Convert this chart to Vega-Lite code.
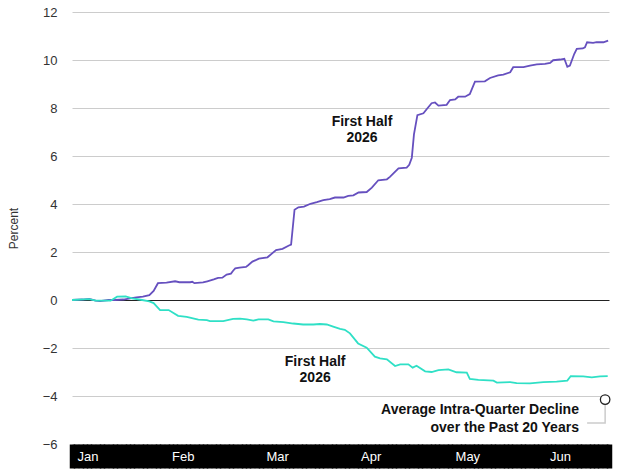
{
  "$schema": "https://vega.github.io/schema/vega-lite/v6.json",
  "width": 537,
  "height": 432,
  "autosize": {"type": "none"},
  "padding": {"left": 72, "top": 12, "right": 11, "bottom": 30},
  "background": "white",
  "config": {"view": {"stroke": null}, "font": "Liberation Sans"},
  "encoding": {
    "x": {
      "field": "day", "type": "quantitative",
      "scale": {"domain": [0, 125], "nice": false, "zero": false},
      "axis": {
        "values": [0,1,2,3,4,5,6,7,8,9,10,11,12,13,14,15,16,17,18,19,20,21,22,23,24,25,26,27,28,29,30,31,32,33,34,35,36,37,38,39,40,41,42,43,44,45,46,47,48,49,50,51,52,53,54,55,56,57,58,59,60,61,62,63,64,65,66,67,68,69,70,71,72,73,74,75,76,77,78,79,80,81,82,83,84,85,86,87,88,89,90,91,92,93,94,95,96,97,98,99,100,101,102,103,104,105,106,107,108,109,110,111,112,113,114,115,116,117,118,119,120,121,122,123,124,125],
        "labelExpr": "datum.value % 22 === 0 ? ['Jan','Feb','Mar','Apr','May','Jun'][round(datum.value/22)] : ''",
        "title": null, "grid": false, "domain": false,
        "ticks": true, "tickSize": 24, "tickWidth": 5.5, "tickColor": "#000000", "tickCap": "butt",
        "labelColor": "#ffffff", "labelFontSize": 13,
        "labelAlign": "left", "labelBaseline": "middle", "labelPadding": -12,
        "labelOffset": 5, "labelFlush": false, "labelOverlap": false, "labelBound": false
      }
    },
    "y": {
      "field": "pct", "type": "quantitative",
      "scale": {"domain": [-6, 12], "nice": false, "zero": false},
      "axis": {
        "values": [-6, -4, -2, 0, 2, 4, 6, 8, 10, 12],
        "title": "Percent", "titleFontWeight": "normal", "titleFontSize": 12,
        "titleColor": "#333333", "titlePadding": 22,
        "labelFontSize": 13, "labelColor": "#333333", "labelPadding": 15,
        "ticks": false, "tickSize": 0, "domain": false, "grid": true,
        "gridColor": {"condition": {"test": "datum.value === 0", "value": "#222222"}, "value": "#cccccc"},
        "gridWidth": 1
      }
    }
  },
  "layer": [
    {
      "data": {"values": [
        {"series": "upper", "day": 0, "pct": 0},
        {"series": "upper", "day": 2.5, "pct": 0.02},
        {"series": "upper", "day": 4, "pct": 0.05},
        {"series": "upper", "day": 5.5, "pct": -0.03},
        {"series": "upper", "day": 6.5, "pct": -0.05},
        {"series": "upper", "day": 8.5, "pct": 0.0},
        {"series": "upper", "day": 10, "pct": 0.0},
        {"series": "upper", "day": 12, "pct": 0.02},
        {"series": "upper", "day": 13.5, "pct": 0.07},
        {"series": "upper", "day": 15, "pct": 0.11},
        {"series": "upper", "day": 16.5, "pct": 0.14},
        {"series": "upper", "day": 18, "pct": 0.2},
        {"series": "upper", "day": 19, "pct": 0.38},
        {"series": "upper", "day": 20, "pct": 0.7},
        {"series": "upper", "day": 22, "pct": 0.72},
        {"series": "upper", "day": 24, "pct": 0.78},
        {"series": "upper", "day": 25, "pct": 0.74},
        {"series": "upper", "day": 27.5, "pct": 0.74},
        {"series": "upper", "day": 28, "pct": 0.76},
        {"series": "upper", "day": 28.5, "pct": 0.7},
        {"series": "upper", "day": 30.5, "pct": 0.73},
        {"series": "upper", "day": 31.5, "pct": 0.78},
        {"series": "upper", "day": 33, "pct": 0.86},
        {"series": "upper", "day": 34, "pct": 0.92},
        {"series": "upper", "day": 35, "pct": 0.93},
        {"series": "upper", "day": 36, "pct": 1.06},
        {"series": "upper", "day": 37, "pct": 1.1},
        {"series": "upper", "day": 37.5, "pct": 1.22},
        {"series": "upper", "day": 38, "pct": 1.32},
        {"series": "upper", "day": 39, "pct": 1.35},
        {"series": "upper", "day": 40.5, "pct": 1.38},
        {"series": "upper", "day": 41, "pct": 1.45},
        {"series": "upper", "day": 42, "pct": 1.6},
        {"series": "upper", "day": 43.5, "pct": 1.72},
        {"series": "upper", "day": 45.5, "pct": 1.78},
        {"series": "upper", "day": 47.5, "pct": 2.08},
        {"series": "upper", "day": 49, "pct": 2.13},
        {"series": "upper", "day": 50.5, "pct": 2.27},
        {"series": "upper", "day": 51, "pct": 2.31},
        {"series": "upper", "day": 51.8, "pct": 3.76},
        {"series": "upper", "day": 52.7, "pct": 3.86},
        {"series": "upper", "day": 54, "pct": 3.89},
        {"series": "upper", "day": 55.5, "pct": 4.01},
        {"series": "upper", "day": 57, "pct": 4.08},
        {"series": "upper", "day": 58.5, "pct": 4.16},
        {"series": "upper", "day": 60, "pct": 4.2},
        {"series": "upper", "day": 61.2, "pct": 4.27},
        {"series": "upper", "day": 63.2, "pct": 4.27},
        {"series": "upper", "day": 64.3, "pct": 4.34},
        {"series": "upper", "day": 65.5, "pct": 4.36},
        {"series": "upper", "day": 66.7, "pct": 4.48},
        {"series": "upper", "day": 68.6, "pct": 4.5},
        {"series": "upper", "day": 69.8, "pct": 4.68},
        {"series": "upper", "day": 71.3, "pct": 4.99},
        {"series": "upper", "day": 73.3, "pct": 5.03},
        {"series": "upper", "day": 74, "pct": 5.13},
        {"series": "upper", "day": 76, "pct": 5.48},
        {"series": "upper", "day": 77.9, "pct": 5.52},
        {"series": "upper", "day": 78.5, "pct": 5.63},
        {"series": "upper", "day": 79.1, "pct": 5.93},
        {"series": "upper", "day": 79.6, "pct": 6.9},
        {"series": "upper", "day": 80.4, "pct": 7.7},
        {"series": "upper", "day": 81.8, "pct": 7.78},
        {"series": "upper", "day": 82.6, "pct": 7.96},
        {"series": "upper", "day": 83.7, "pct": 8.2},
        {"series": "upper", "day": 84.5, "pct": 8.23},
        {"series": "upper", "day": 85.3, "pct": 8.1},
        {"series": "upper", "day": 87.2, "pct": 8.13},
        {"series": "upper", "day": 88, "pct": 8.33},
        {"series": "upper", "day": 89.2, "pct": 8.36},
        {"series": "upper", "day": 89.9, "pct": 8.47},
        {"series": "upper", "day": 91.5, "pct": 8.47},
        {"series": "upper", "day": 92.6, "pct": 8.58},
        {"series": "upper", "day": 93.8, "pct": 9.1},
        {"series": "upper", "day": 96.1, "pct": 9.11},
        {"series": "upper", "day": 97.3, "pct": 9.25},
        {"series": "upper", "day": 99.2, "pct": 9.36},
        {"series": "upper", "day": 100.4, "pct": 9.39},
        {"series": "upper", "day": 102, "pct": 9.49},
        {"series": "upper", "day": 102.7, "pct": 9.7},
        {"series": "upper", "day": 105.1, "pct": 9.7},
        {"series": "upper", "day": 106.6, "pct": 9.77},
        {"series": "upper", "day": 108.2, "pct": 9.82},
        {"series": "upper", "day": 110.1, "pct": 9.84},
        {"series": "upper", "day": 111.3, "pct": 9.88},
        {"series": "upper", "day": 112, "pct": 9.99},
        {"series": "upper", "day": 113.6, "pct": 10.02},
        {"series": "upper", "day": 114.6, "pct": 10.05},
        {"series": "upper", "day": 115.3, "pct": 9.72},
        {"series": "upper", "day": 115.9, "pct": 9.77},
        {"series": "upper", "day": 116.9, "pct": 10.25},
        {"series": "upper", "day": 117.5, "pct": 10.46},
        {"series": "upper", "day": 118.9, "pct": 10.48},
        {"series": "upper", "day": 119.4, "pct": 10.53},
        {"series": "upper", "day": 119.9, "pct": 10.74},
        {"series": "upper", "day": 121.3, "pct": 10.71},
        {"series": "upper", "day": 122.1, "pct": 10.74},
        {"series": "upper", "day": 123.7, "pct": 10.74},
        {"series": "upper", "day": 124.8, "pct": 10.81},
        {"series": "lower", "day": 0, "pct": 0},
        {"series": "lower", "day": 4, "pct": 0.04},
        {"series": "lower", "day": 5.5, "pct": -0.03},
        {"series": "lower", "day": 9, "pct": -0.03},
        {"series": "lower", "day": 10.5, "pct": 0.14},
        {"series": "lower", "day": 12.5, "pct": 0.15},
        {"series": "lower", "day": 14, "pct": 0.07},
        {"series": "lower", "day": 16, "pct": 0.01},
        {"series": "lower", "day": 18, "pct": -0.06},
        {"series": "lower", "day": 19, "pct": -0.13},
        {"series": "lower", "day": 20.5, "pct": -0.42},
        {"series": "lower", "day": 22.5, "pct": -0.42},
        {"series": "lower", "day": 24.7, "pct": -0.66},
        {"series": "lower", "day": 26.7, "pct": -0.7},
        {"series": "lower", "day": 29.4, "pct": -0.82},
        {"series": "lower", "day": 31.4, "pct": -0.84},
        {"series": "lower", "day": 32.1, "pct": -0.88},
        {"series": "lower", "day": 35.2, "pct": -0.88},
        {"series": "lower", "day": 37.5, "pct": -0.79},
        {"series": "lower", "day": 39.1, "pct": -0.78},
        {"series": "lower", "day": 40.7, "pct": -0.81},
        {"series": "lower", "day": 42.2, "pct": -0.86},
        {"series": "lower", "day": 43.4, "pct": -0.81},
        {"series": "lower", "day": 45.7, "pct": -0.81},
        {"series": "lower", "day": 46.9, "pct": -0.89},
        {"series": "lower", "day": 49.2, "pct": -0.92},
        {"series": "lower", "day": 51.5, "pct": -0.98},
        {"series": "lower", "day": 53.8, "pct": -1.02},
        {"series": "lower", "day": 56.2, "pct": -1.02},
        {"series": "lower", "day": 57.7, "pct": -1.0},
        {"series": "lower", "day": 59.3, "pct": -1.02},
        {"series": "lower", "day": 60.8, "pct": -1.11},
        {"series": "lower", "day": 62.4, "pct": -1.2},
        {"series": "lower", "day": 63.5, "pct": -1.24},
        {"series": "lower", "day": 64.7, "pct": -1.39},
        {"series": "lower", "day": 66.6, "pct": -1.81},
        {"series": "lower", "day": 68.6, "pct": -1.99},
        {"series": "lower", "day": 70.5, "pct": -2.36},
        {"series": "lower", "day": 71.7, "pct": -2.43},
        {"series": "lower", "day": 73.3, "pct": -2.47},
        {"series": "lower", "day": 75.2, "pct": -2.75},
        {"series": "lower", "day": 76.4, "pct": -2.68},
        {"series": "lower", "day": 78.3, "pct": -2.68},
        {"series": "lower", "day": 79.3, "pct": -2.82},
        {"series": "lower", "day": 80.2, "pct": -2.74},
        {"series": "lower", "day": 82.2, "pct": -2.97},
        {"series": "lower", "day": 83.7, "pct": -3.0},
        {"series": "lower", "day": 85.3, "pct": -2.92},
        {"series": "lower", "day": 87.6, "pct": -2.89},
        {"series": "lower", "day": 89.5, "pct": -3.01},
        {"series": "lower", "day": 91.9, "pct": -3.03},
        {"series": "lower", "day": 92.6, "pct": -3.29},
        {"series": "lower", "day": 94.6, "pct": -3.33},
        {"series": "lower", "day": 98.1, "pct": -3.36},
        {"series": "lower", "day": 98.9, "pct": -3.44},
        {"series": "lower", "day": 102, "pct": -3.42},
        {"series": "lower", "day": 103.5, "pct": -3.46},
        {"series": "lower", "day": 106.6, "pct": -3.47},
        {"series": "lower", "day": 109.7, "pct": -3.42},
        {"series": "lower", "day": 112.8, "pct": -3.4},
        {"series": "lower", "day": 115.3, "pct": -3.36},
        {"series": "lower", "day": 116.1, "pct": -3.17},
        {"series": "lower", "day": 119, "pct": -3.18},
        {"series": "lower", "day": 121, "pct": -3.22},
        {"series": "lower", "day": 122.9, "pct": -3.18},
        {"series": "lower", "day": 124.7, "pct": -3.17}
      ]},
      "mark": {"type": "line", "strokeWidth": 1.8, "interpolate": "linear"},
      "encoding": {
        "color": {
          "field": "series", "type": "nominal",
          "scale": {"domain": ["upper", "lower"], "range": ["#6650BF", "#2FE0C6"]},
          "legend": null
        }
      }
    },
    {
      "data": {"values": [
        {"day": 67.5, "pct": 7.42, "label": "First Half\n2026"},
        {"day": 56.6, "pct": -2.57, "label": "First Half\n2026"}
      ]},
      "mark": {"type": "text", "align": "center", "baseline": "middle", "lineBreak": "\n", "lineHeight": 16, "fontSize": 14, "fontWeight": "bold", "color": "#111111"},
      "encoding": {"text": {"field": "label"}}
    },
    {
      "data": {"values": [
        {"k": 1, "day": 119.9, "pct": -5.12},
        {"k": 2, "day": 124.1, "pct": -5.12},
        {"k": 3, "day": 124.1, "pct": -4.15}
      ]},
      "mark": {"type": "line", "color": "#cccccc", "strokeWidth": 1.5},
      "encoding": {"order": {"field": "k"}}
    },
    {
      "data": {"values": [{"day": 124.1, "pct": -4.15}]},
      "mark": {"type": "point", "filled": true, "fill": "#ffffff", "stroke": "#222222", "strokeWidth": 1.3, "size": 90, "opacity": 1},
      "encoding": {}
    },
    {
      "data": {"values": [
        {"day": 118, "pct": -4.58, "label": "Average Intra-Quarter Decline\nover the Past 20 Years"}
      ]},
      "mark": {"type": "text", "align": "right", "baseline": "middle", "lineBreak": "\n", "lineHeight": 18, "fontSize": 14, "fontWeight": "bold", "color": "#111111"},
      "encoding": {"text": {"field": "label"}}
    }
  ]
}
